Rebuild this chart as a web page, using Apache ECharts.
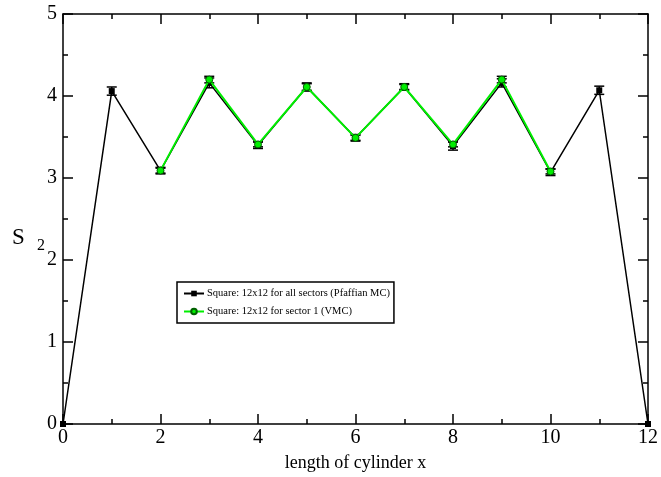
<!DOCTYPE html>
<html><head><meta charset="utf-8">
<script src="https://cdn.jsdelivr.net/npm/echarts@6/dist/echarts.min.js"></script>
<style>html,body{margin:0;padding:0;background:#fff}#c{width:661px;height:477px}</style>
</head><body><div id="c"></div>
<script>
var xValues = [0,1,2,3,4,5,6,7,8,9,10,11,12];
var pfaffianS2 = [0,4.06,3.09,4.16,3.40,4.11,3.49,4.11,3.39,4.16,3.07,4.07,0];
var pfaffianErr = [0,0.05,0.04,0.06,0.04,0.05,0.04,0.04,0.05,0.05,0.04,0.05,0];
var vmcX = [2,3,4,5,6,7,8,9,10];
var vmcS2 = [3.09,4.20,3.41,4.11,3.49,4.11,3.41,4.20,3.08];
var vmcErr = [0.03,0.04,0.03,0.04,0.03,0.03,0.03,0.04,0.03];
var seriesNames = ['Square: 12x12 for all sectors (Pfaffian MC)','Square: 12x12 for sector 1 (VMC)'];

var FONT = 'Liberation Serif';
function pairs(xs, ys){ return xs.map(function(x,i){return [x, ys[i]];}); }
function errData(xs, ys, es){ return xs.map(function(x,i){return [x, ys[i]-es[i], ys[i]+es[i]];}).filter(function(d){return d[2]-d[1]>0;}); }
function errRender(params, api){
  var x = api.value(0), lo = api.coord([x, api.value(1)]), hi = api.coord([x, api.value(2)]);
  var w = 5;
  var st = {stroke:'#000', lineWidth:1.5};
  return {type:'group', children:[
    {type:'line', shape:{x1:lo[0],y1:lo[1],x2:hi[0],y2:hi[1]}, style:st},
    {type:'line', shape:{x1:lo[0]-w,y1:lo[1],x2:lo[0]+w,y2:lo[1]}, style:st},
    {type:'line', shape:{x1:hi[0]-w,y1:hi[1],x2:hi[0]+w,y2:hi[1]}, style:st}
  ]};
}
var axisLine = {show:true, onZero:false, lineStyle:{color:'#000', width:1.5}};
var tick = {show:true, inside:true, length:10, lineStyle:{color:'#000', width:1.5}};
var minor = {show:true, splitNumber:2, length:5, lineStyle:{color:'#000', width:1.5}};
var chart = echarts.init(document.getElementById('c'));
chart.setOption({
  animation:false,
  backgroundColor:'#fff',
  grid:{left:63, right:11, top:14, bottom:53},
  xAxis:[{
    type:'value', min:0, max:12, interval:2,
    axisLine:axisLine, axisTick:tick, minorTick:minor,
    splitLine:{show:false},
    axisLabel:{color:'#000', fontFamily:FONT, fontSize:20, margin:4},
    name:'length of cylinder x', nameLocation:'middle', nameGap:30,
    nameTextStyle:{color:'#000', fontFamily:FONT, fontSize:18}
  },{
    type:'value', min:0, max:12, interval:2, position:'top',
    axisLine:axisLine, axisTick:tick, minorTick:minor,
    splitLine:{show:false}, axisLabel:{show:false}
  }],
  yAxis:[{
    type:'value', min:0, max:5, interval:1,
    axisLine:axisLine, axisTick:tick, minorTick:minor,
    splitLine:{show:false},
    axisLabel:{color:'#000', fontFamily:FONT, fontSize:20, margin:6}
  },{
    type:'value', min:0, max:5, interval:1, position:'right',
    axisLine:axisLine, axisTick:tick, minorTick:minor,
    splitLine:{show:false}, axisLabel:{show:false}
  }],
  graphic:[{
    type:'text', left:12, top:226,
    style:{text:'S', font:'23px "Liberation Serif"', fill:'#000'}
  },{
    type:'text', left:37, top:238,
    style:{text:'2', font:'16px "Liberation Serif"', fill:'#000'}
  }],
  legend:{
    orient:'vertical', left:177, top:282,
    backgroundColor:'#fff', borderColor:'#000', borderWidth:1.5, borderRadius:0,
    padding:[6,4,6,6], itemGap:7, itemWidth:20, itemHeight:7,
    textStyle:{color:'#000', fontFamily:FONT, fontSize:10.5, padding:[0,0,0,-2]},
    data:seriesNames
  },
  series:[{
    name:seriesNames[0], type:'line', data:pairs(xValues, pfaffianS2),
    symbol:'rect', symbolSize:6, z:3,
    lineStyle:{color:'#000', width:1.5}, itemStyle:{color:'#000'}
  },{
    type:'custom', renderItem:errRender, data:errData(xValues, pfaffianS2, pfaffianErr), z:4, silent:true
  },{
    type:'custom', renderItem:errRender, data:errData(vmcX, vmcS2, vmcErr), z:4, silent:true
  },{
    name:seriesNames[1], type:'line', data:pairs(vmcX, vmcS2),
    symbol:'circle', symbolSize:7, z:5,
    lineStyle:{color:'#00ee00', width:2}, itemStyle:{color:'#00ee00', borderColor:'#006000', borderWidth:1}
  }]
});
</script></body></html>
